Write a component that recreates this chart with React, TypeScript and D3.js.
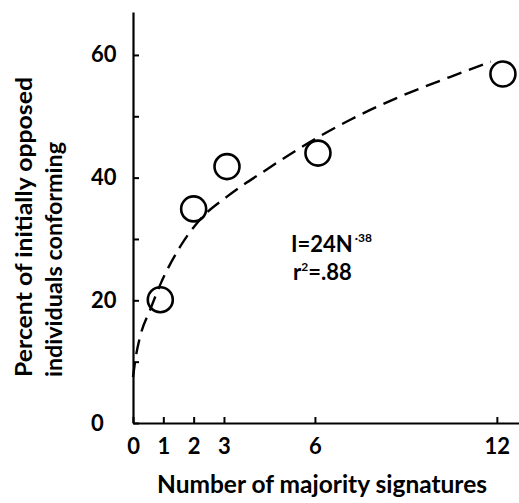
import React, { useEffect, useRef } from "react";
import * as d3 from "d3";

const signatures = [0.9, 2.0, 3.1, 6.1, 12.2];
const conformingPct = [20.1, 34.9, 41.8, 44.0, 56.9];

// dashed fitted curve, sampled along the drawn line
const fitN = [0, 0.1, 0.23, 0.56, 0.92, 1.55, 2.2, 3.1, 4.4, 5.5, 7.15, 8.8, 10.45, 11.8];
const fitPct = [7.5, 11, 14, 18.4, 22.8, 28.7, 33.1, 36.9, 41.3, 44.8, 49.4, 53.2, 56.4, 58.9];

const xTicks = [0, 1, 2, 3, 6, 12];
const yTicks = [0, 10, 20, 30, 40, 50, 60];
const yLabelled = [0, 20, 40, 60];

const font = "Lato, 'DejaVu Sans', sans-serif";

function App() {
  const ref = useRef<SVGSVGElement | null>(null);

  useEffect(() => {
    drawChart();
  }, []);

  const drawChart = () => {
    const svg = d3.select(ref.current);
    svg.selectAll("*").remove();

    const x = d3.scaleLinear().domain([0, 12.73]).range([133, 519]);
    const y = d3.scaleLinear().domain([0, 67]).range([423, 12]);

    // Y axis, ticks pointing inward
    const yAxis = svg.append("g")
      .attr("transform", "translate(133,0)")
      .call(
        d3.axisLeft(y)
          .tickValues(yTicks)
          .tickSizeInner(-6)
          .tickSizeOuter(0)
          .tickPadding(11)
          .tickFormat((d) => (yLabelled.includes(+d) ? String(d) : ""))
      );
    yAxis.select(".domain").attr("stroke-width", 2.2);
    yAxis.selectAll(".tick line").attr("stroke-width", 2);
    yAxis.selectAll("text")
      .attr("text-anchor", "start")
      .attr("x", -42)
      .style("font-family", font)
      .style("font-size", "22px")
      .style("font-weight", "bold")
      .attr("fill", "#000");

    // X axis
    const xAxis = svg.append("g")
      .attr("transform", "translate(0,423)")
      .call(
        d3.axisBottom(x)
          .tickValues(xTicks)
          .tickSizeInner(-6)
          .tickSizeOuter(0)
          .tickPadding(15)
      );
    xAxis.select(".domain").attr("stroke-width", 2.2);
    xAxis.selectAll(".tick line").attr("stroke-width", 2);
    xAxis.selectAll("text")
      .style("font-family", font)
      .style("font-size", "22px")
      .style("font-weight", "bold")
      .attr("fill", "#000");

    // fitted curve
    const fit = fitN.map((n, i) => [n, fitPct[i]] as [number, number]);
    const line = d3.line<[number, number]>()
      .x((d) => x(d[0]))
      .y((d) => y(d[1]))
      .curve(d3.curveMonotoneX);

    svg.append("path")
      .datum(fit)
      .attr("d", line)
      .attr("fill", "none")
      .attr("stroke", "#000")
      .attr("stroke-width", 2.4)
      .attr("stroke-dasharray", "15,8");

    // data circles
    svg.selectAll("circle.pt")
      .data(signatures)
      .enter()
      .append("circle")
      .attr("class", "pt")
      .attr("cx", (d) => x(d))
      .attr("cy", (d, i) => y(conformingPct[i]))
      .attr("r", 12.5)
      .attr("fill", "none")
      .attr("stroke", "#000")
      .attr("stroke-width", 2.6);

    // equation
    const eq = svg.append("text")
      .attr("x", 291)
      .attr("y", 252)
      .style("font-family", font)
      .style("font-size", "22px")
      .style("font-weight", "bold");
    eq.append("tspan").text("I=24N");
    eq.append("tspan").attr("dx", 2).attr("dy", -10).style("font-size", "12px").text("·38");

    const r2 = svg.append("text")
      .attr("x", 293)
      .attr("y", 280)
      .style("font-family", font)
      .style("font-size", "22px")
      .style("font-weight", "bold");
    r2.append("tspan").text("r");
    r2.append("tspan").attr("dy", -9).style("font-size", "12px").text("2");
    r2.append("tspan").attr("dy", 9).text("=.88");

    // axis titles
    svg.append("text")
      .attr("x", 157)
      .attr("y", 493)
      .attr("textLength", 330)
      .attr("lengthAdjust", "spacingAndGlyphs")
      .style("font-family", font)
      .style("font-size", "24px")
      .style("font-weight", "bold")
      .text("Number of majority signatures");

    const yTitle = svg.append("g")
      .attr("transform", "translate(0,377) rotate(-90)")
      .style("font-family", font)
      .style("font-size", "23px")
      .style("font-weight", "bold");
    yTitle.append("text")
      .attr("x", 0)
      .attr("y", 32)
      .attr("textLength", 300)
      .attr("lengthAdjust", "spacingAndGlyphs")
      .text("Percent of initially opposed");
    yTitle.append("text")
      .attr("x", 0)
      .attr("y", 62)
      .attr("textLength", 235)
      .attr("lengthAdjust", "spacingAndGlyphs")
      .text("individuals conforming");
  };

  return (
    <>
      <style>{"body{margin:0;background:#fff}"}</style>
      <svg ref={ref} width={519} height={503} style={{ display: "block" }} />
    </>
  );
}

export default App;
